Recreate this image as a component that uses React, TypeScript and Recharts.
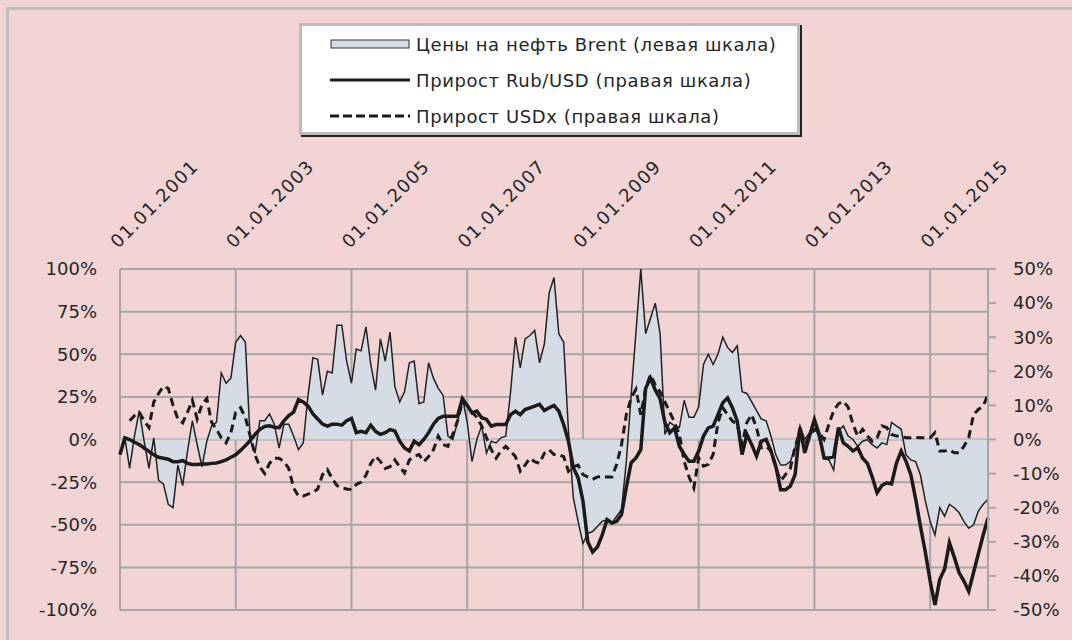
import React from "react";
import { ComposedChart, Area, Line, XAxis, YAxis, CartesianGrid } from "recharts";

// monthly, 01.2001 .. 01.2016, year-on-year growth in %
const brent = [
  -9, 1, -17, 2, 17, -1, -17, 1, -24, -26, -38, -40,
  -15, -27, -7, 11, -3, -16, -1, 8, 10, 39, 33, 36,
  57, 61, 57, 0, -8, 11, 11, 15, 9, -5, 9, 9,
  2, -6, -2, 26, 48, 47, 26, 40, 39, 67, 67, 46,
  33, 53, 52, 66, 44, 29, 59, 46, 63, 31, 22, 28,
  45, 46, 21, 22, 45, 36, 30, 26, 2, 0, 10, 25,
  10, -13, 0, 8, -8, -1, -2, 1, 2, 28, 60, 42,
  59, 61, 64, 45, 56, 86, 95, 62, 57, 5, -34, -48,
  -61, -55, -54, -51, -48, -47, -49, -45, -41, -13, 26, 63,
  100, 62, 71, 80, 62, 3, 10, 8, 7, 23, 13, 13,
  19, 44, 50, 44, 50, 60, 54, 51, 55, 28, 27, 22,
  17, 12, 11, 2, -9, -15, -15, -13, -5, 8, 0, 4,
  10, 0, -11, -12, -18, 5, 8, 2, 0, -4, -1, 0,
  -3, -5, -2, -3, 10, 8, 6, -9, -12, -13, -21, -36,
  -48, -56, -40, -45, -38, -40, -43, -48, -52, -50, -42, -38,
  -35,
];

const rubUsd = [
  -4.4, 0.5, 0, -0.8, -1.5, -2.5, -3.5, -4.5, -5.2, -5.5, -5.8, -6.5,
  -6.5, -6.2, -7, -7.3, -7.3, -7.2, -7.2, -7, -6.9, -6.5, -6, -5.2,
  -4.5, -3.2, -1.8, -0.3, 1.5, 3, 3.8, 4, 3.6, 3.5, 5.5, 7,
  8, 11.7, 11, 9.8, 7.5, 6, 4.5, 3.9, 4.5, 4.5, 4.2, 5.5,
  6.2, 2, 2.4, 2, 4.2, 2.4, 1.5, 2, 2.9, 2.5, -0.5, -2.5,
  -3.4, -0.5, -1.5, 0, 2, 4.5, 6.2, 6.8, 6.8, 6.8, 6.8, 12,
  10, 7.8, 8.3, 6.4, 5.9, 3.9, 4.4, 4.4, 4.4, 7.3, 8.3, 7.3,
  8.8, 9.3, 9.8, 10.3, 8.5, 9.3, 10, 8.3, 4.4, -0.5, -8.3, -11.2,
  -18, -30, -33, -31.5, -28, -23.5, -24.5, -24, -22, -14, -6.8, -5.4,
  -3, 15, 18, 14.5, 12, 5, 2, 3.4, -2, -4.4, -6.4, -6.4,
  -3.4, 1, 3.4, 3.9, 7.3, 10.8, 12.2, 9.3, 5.4, -4.4, 1.5, -1.5,
  -4.9, -0.5, 0, -3.4, -7.8, -14.7, -14.7, -13.7, -10.3, 3.4, -3.9, 1,
  5.9, 1.5, -5.4, -5.4, -5, 3.5, -1, -2, -3.4, -2.4, -5.5, -7,
  -11, -15.6, -13.5, -12.7, -13, -7, -3.4, -6.4, -10.3, -17.5, -25.5, -33,
  -41.5, -48.5, -41, -38, -30.3, -34.5, -39, -41.5, -44.5, -39, -33.5, -28,
  -23,
];

const usdx = [
  null, null, 5.5, 7, 8, 5.5, 3.5, 11, 13.5, 15.6, 15, 10,
  6, 4.9, 8, 11.5, 6, 10.3, 12, 5, 3, 0.5, -1, 2,
  8, 9.3, 6.5, 1, -4.5, -8, -10, -7, -5.5, -5.5, -6.5, -8.5,
  -14.2, -16.6, -16.6, -16, -15.5, -14.5, -10.3, -8.8, -11.5, -13.5, -14.2, -14.5,
  -14.7, -13.2, -12.5, -10.5, -7, -4.9, -6.4, -8.5, -8, -6, -8, -9.8,
  -6, -5, -4.4, -6.5, -5, -3, 1, -1.5, -2, 1.5, 5.5, 11,
  10, 8, 6.5, 4, 0.5, -3, -5.5, -3.4, -2, -3.4, -5, -9.3,
  -7.5, -5.5, -6.5, -7, -4, -3, -4.4, -4.5, -5, -9.3, -8, -7.5,
  -10.3, -11, -11.7, -11, -10.8, -11, -11, -7.3, -1.5, 7.3, 12.2, 14.7,
  7.3, 15, 19, 16, 14, 11, 8, 5, 1.5, -6.4, -11, -14.2,
  -5.4, -7.8, -7.3, -4.4, 4.9, 9.3, 7.3, 5.4, 4.4, -1.5, 5, 7.3,
  3.4, -2.4, -2, -3.4, -8.3, -12.2, -10.3, -8.5, -2, 2, -1.5, 1,
  3, 2, 0, 4.4, 8.5, 10.5, 11.2, 9.5, 4.4, 1, 3, 1,
  -0.5, 0.5, 4, 3.5, 1.5, 1, 1, 0.5, 0.5, 0.6, 0.5, 0.5,
  0.5, 2, -3.4, -3.4, -3, -3.9, -3.9, -2, 0.5, 7.3, 8.8, 9.8,
  13.2,
];

const tickMonths = [0, 24, 48, 72, 96, 120, 144, 168];
const tickLabels = [
  "01.01.2001", "01.01.2003", "01.01.2005", "01.01.2007",
  "01.01.2009", "01.01.2011", "01.01.2013", "01.01.2015",
];
const leftTicks = [-100, -75, -50, -25, 0, 25, 50, 75, 100];
const rightTicks = [-50, -40, -30, -20, -10, 0, 10, 20, 30, 40, 50];

const seriesNames = [
  "Цены на нефть Brent (левая шкала)",
  "Прирост Rub/USD (правая шкала)",
  "Прирост USDx (правая шкала)",
];

const data = brent.map((b, i) => ({ m: i, brent: b, rub: rubUsd[i], usdx: usdx[i] }));

const FONT = "'DejaVu Sans', sans-serif";
const TEXT = "#262626";
const GRID = "#a6a6a6";

function DateTick(props: any) {
  const { x, y, payload } = props;
  const label = tickLabels[tickMonths.indexOf(payload.value)];
  const tx = x - 2;
  const ty = y - 20;
  return (
    <text
      x={tx}
      y={ty}
      transform={`rotate(-45 ${tx} ${ty})`}
      textAnchor="start"
      fontFamily={FONT}
      fontSize={18}
      letterSpacing={1.2}
      fill={TEXT}
    >
      {label}
    </text>
  );
}

function LegendBox() {
  const row = { display: "flex", alignItems: "center", height: 36 };
  const label = { marginLeft: 6, fontFamily: FONT, fontSize: 18, color: TEXT, letterSpacing: 0.6, whiteSpace: "nowrap" as const };
  return (
    <div
      style={{
        position: "absolute",
        left: 299,
        top: 23,
        width: 467,
        height: 106,
        background: "#fff",
        border: "3px solid #bcbcbc",
        boxShadow: "2px 2px 0 #222",
        padding: "0 0 0 28px",
        boxSizing: "content-box",
      }}
    >
      <div style={row}>
        <svg width={80} height={12}>
          <rect x={1} y={2} width={78} height={8} fill="#d6dce5" stroke="#333" strokeWidth={1} />
        </svg>
        <span style={label}>{seriesNames[0]}</span>
      </div>
      <div style={row}>
        <svg width={80} height={12}>
          <line x1={0} y1={6} x2={80} y2={6} stroke="#1a1a1a" strokeWidth={3} />
        </svg>
        <span style={label}>{seriesNames[1]}</span>
      </div>
      <div style={row}>
        <svg width={80} height={12}>
          <line x1={0} y1={6} x2={80} y2={6} stroke="#1a1a1a" strokeWidth={3} strokeDasharray="9 4" />
        </svg>
        <span style={label}>{seriesNames[2]}</span>
      </div>
    </div>
  );
}

export default function App() {
  return (
    <div style={{ position: "absolute", left: 0, top: 0, width: 1072, height: 640, background: "#f2d4d5", overflow: "hidden" }}>
      <div
        style={{
          position: "absolute",
          left: 6,
          top: 7,
          width: 1100,
          height: 700,
          borderLeft: "3px solid #bfbfbf",
          borderTop: "3px solid #bfbfbf",
        }}
      />
      <div style={{ position: "absolute", left: 0, top: 0 }}>
        <ComposedChart
          width={1072}
          height={640}
          data={data}
          margin={{ top: 239, right: 14, bottom: 30, left: 20 }}
        >
          <CartesianGrid yAxisId="left" stroke={GRID} strokeWidth={2} />
          <XAxis
            dataKey="m"
            type="number"
            orientation="top"
            domain={[0, 180]}
            ticks={tickMonths}
            height={30}
            axisLine={false}
            tickLine={false}
            tickSize={0}
            tickMargin={0}
            tick={<DateTick />}
            interval={0}
          />
          <YAxis
            yAxisId="left"
            domain={[-100, 100]}
            ticks={leftTicks}
            width={100}
            axisLine={false}
            tickLine={false}
            tickSize={0}
            tickMargin={23}
            tickFormatter={(v) => `${v}%`}
            tick={{ fontFamily: FONT, fontSize: 18, fill: TEXT }}
          />
          <YAxis
            yAxisId="right"
            orientation="right"
            domain={[-50, 50]}
            ticks={rightTicks}
            width={70}
            axisLine={{ stroke: GRID, strokeWidth: 2 }}
            tickLine={{ stroke: GRID, strokeWidth: 2 }}
            tickSize={8}
            tickMargin={17}
            tickFormatter={(v) => `${v}%`}
            tick={{ fontFamily: FONT, fontSize: 18, fill: TEXT, textAnchor: "start" }}
          />
          <Area
            yAxisId="left"
            dataKey="brent"
            type="linear"
            baseValue={0}
            fill="#d6dce5"
            fillOpacity={1}
            stroke="#222"
            strokeWidth={1.5}
            isAnimationActive={false}
          />
          <Line
            yAxisId="right"
            dataKey="rub"
            type="linear"
            stroke="#1a1a1a"
            strokeWidth={3.5}
            dot={false}
            isAnimationActive={false}
          />
          <Line
            yAxisId="right"
            dataKey="usdx"
            type="linear"
            stroke="#1a1a1a"
            strokeWidth={3}
            strokeDasharray="8 5"
            dot={false}
            isAnimationActive={false}
          />
        </ComposedChart>
      </div>
      <LegendBox />
    </div>
  );
}
